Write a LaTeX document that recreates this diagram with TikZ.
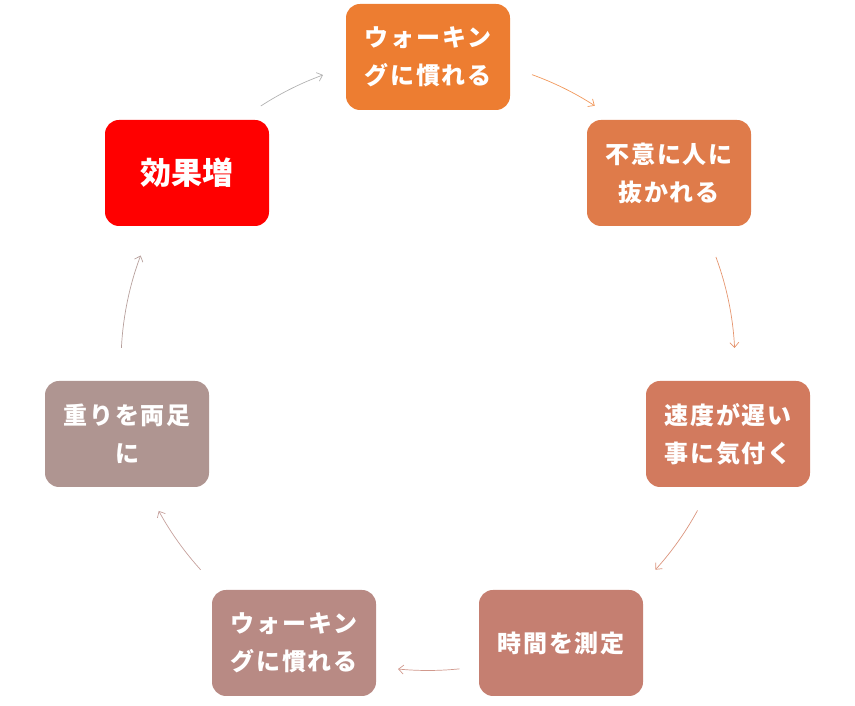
\documentclass[tikz,border=0pt]{standalone}
\usepackage{fontspec}
\newfontfamily\jp{Noto Sans CJK JP}[LetterSpace=8]
\newfontfamily\jpbig{Noto Sans CJK JP}
\usetikzlibrary{arrows.meta,calc}
\definecolor{c1}{HTML}{ED7D31}
\definecolor{c2}{HTML}{DF7B4A}
\definecolor{c3}{HTML}{D27A5E}
\definecolor{c4}{HTML}{C57F71}
\definecolor{c5}{HTML}{B88A84}
\definecolor{c6}{HTML}{AF9591}
\definecolor{c7}{HTML}{FF0000}
\begin{document}
\begin{tikzpicture}[x=1pt,y=1pt,
  box/.style={rounded corners=14pt, minimum width=164pt, minimum height=106pt, inner sep=0pt,
    text=white, font=\jp\bfseries\fontsize{24}{38}\selectfont, align=center},
  arr/.style={line width=0.7pt, -{Straight Barb[length=5pt,width=9pt]}}]
\useasboundingbox (0,0) rectangle (855,706);
\coordinate (C) at (428,342.5);
\node[box, fill=c1] (n1) at (428,649) {ウォーキン\\グに慣れる};
\node[box, fill=c2] (n2) at (669,533) {不意に人に\\抜かれる};
\node[box, fill=c3] (n3) at (728,272) {速度が遅い\\事に気付く};
\node[box, fill=c4] (n4) at (561,63) {時間を測定};
\node[box, fill=c5] (n5) at (294,63) {ウォーキン\\グに慣れる};
\node[box, fill=c6] (n6) at (127,272) {重りを両足\\に};
\node[box, fill=c7, font=\jpbig\bfseries\fontsize{31}{36}\selectfont] (n7) at (187,533) {効果増};
\def\R{307}
\coordinate (s1) at ($(C)+(70.2:\R)$);
\coordinate (s2) at ($(C)+(20.3:\R)$);
\coordinate (s3) at ($(C)+(-28.6:\R)$);
\coordinate (s4) at ($(C)+(-84.1:\R)$);
\coordinate (s5) at ($(C)+(-137.8:\R)$);
\coordinate (s6) at ($(C)+(177.1:\R)$);
\coordinate (s7) at ($(C)+(123:\R)$);
\draw[arr, draw=c1!80] (s1) arc[start angle=70.2, end angle=57.1, radius=\R];
\draw[arr, draw=c2!80] (s2) arc[start angle=20.3, end angle=2.9, radius=\R];
\draw[arr, draw=c3!80] (s3) arc[start angle=-28.6, end angle=-42.2, radius=\R];
\draw[arr, draw=c4!80] (s4) arc[start angle=-84.1, end angle=-95.6, radius=\R];
\draw[arr, draw=c5!80] (s5) arc[start angle=-137.8, end angle=-151.3, radius=\R];
\draw[arr, draw=c6!90] (s6) arc[start angle=177.1, end angle=159.4, radius=\R];
\draw[arr, draw=black!30] (s7) arc[start angle=123, end angle=110, radius=\R];
\end{tikzpicture}
\end{document}
